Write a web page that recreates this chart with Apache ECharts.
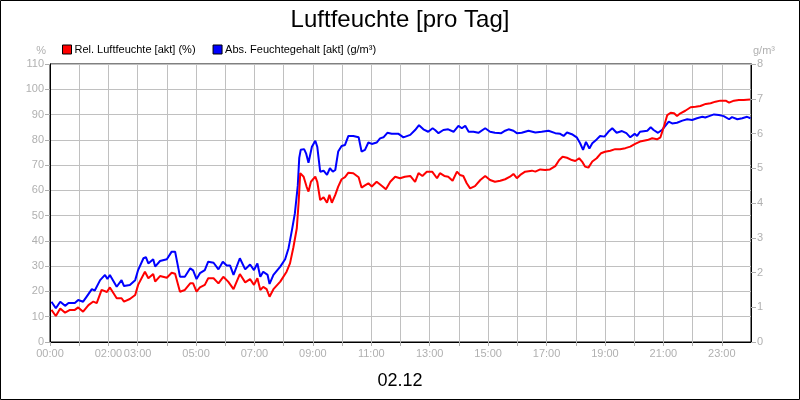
<!DOCTYPE html>
<html>
<head>
<meta charset="utf-8">
<script src="https://cdn.jsdelivr.net/npm/echarts@6/dist/echarts.min.js"></script>
<style>
  html, body { margin: 0; padding: 0; background: #fff; }
  #chart { width: 800px; height: 400px; }
</style>
</head>
<body>
<div id="chart"></div>
<script>
// Zeit in Minuten seit 00:00
const relMinutes = [3, 12, 21, 31, 41, 51, 58, 68, 79, 89, 96, 106, 117, 123, 137, 147, 152, 164, 175, 181,
  195, 202, 212, 216, 226, 240, 250, 257, 267, 277, 288, 294, 301, 308, 318, 325, 336, 346, 356, 366,
  370, 377, 390, 401, 411, 419, 426, 432, 438, 445, 451, 459, 473, 486, 493, 500, 507, 511, 514, 521,
  527, 531, 536, 545, 549, 555, 562, 569, 574, 579, 586, 592, 599, 606, 613, 623, 634, 640, 647, 654,
  661, 671, 682, 690, 699, 709, 719, 729, 740, 750, 757, 765, 774, 785, 795, 801, 810, 818, 827, 836,
  842, 849, 856, 863, 873, 884, 894, 904, 914, 925, 935, 945, 952, 959, 966, 976, 990, 997, 1007, 1017,
  1027, 1038, 1046, 1053, 1062, 1072, 1079, 1087, 1093, 1099, 1106, 1114, 1123, 1132, 1140, 1151, 1161, 1171, 1182, 1192,
  1202, 1212, 1227, 1237, 1247, 1254, 1261, 1268, 1275, 1282, 1288, 1295, 1305, 1316, 1326, 1336, 1347, 1357, 1367, 1377,
  1388, 1395, 1405, 1415, 1425, 1438];
const relValues = [12.7, 10.3, 13.3, 11.6, 12.7, 12.7, 13.7, 12.0, 14.6, 16.0, 15.4, 20.6, 19.8, 21.6, 17.3, 17.3, 16.0, 17.0, 18.6, 22.6,
  27.8, 25.2, 26.9, 23.9, 26.1, 25.4, 27.4, 27.0, 19.9, 20.6, 23.2, 23.2, 19.9, 21.6, 22.6, 25.2, 25.2, 23.2, 25.8, 23.9,
  24.2, 20.9, 26.9, 23.6, 24.9, 22.6, 25.2, 20.6, 21.8, 20.9, 17.9, 20.9, 23.9, 27.8, 31.1, 37.5, 45.0, 56.0, 66.8, 65.4,
  61.5, 59.5, 63.4, 65.4, 63.4, 56.2, 57.3, 55.1, 58.2, 55.1, 58.2, 61.5, 64.4, 65.2, 67.0, 66.8, 65.2, 61.1, 62.0, 62.8,
  61.5, 63.4, 61.7, 60.4, 63.4, 65.4, 64.8, 65.4, 65.7, 63.4, 66.8, 65.7, 67.4, 67.4, 64.8, 66.8, 65.7, 65.4, 63.8, 67.4,
  66.1, 65.7, 62.8, 60.8, 61.7, 64.1, 65.7, 64.1, 63.4, 63.8, 64.4, 65.4, 66.5, 64.8, 66.1, 67.4, 67.8, 67.4, 68.3, 68.1,
  68.3, 69.6, 72.0, 73.3, 72.9, 72.0, 71.6, 72.7, 71.4, 69.4, 69.0, 71.4, 72.7, 74.7, 75.3, 75.7, 76.3, 76.3, 76.7, 77.3,
  78.4, 79.3, 79.9, 80.6, 80.2, 81.0, 85.2, 89.8, 90.7, 90.5, 89.4, 90.5, 91.5, 92.9, 93.1, 93.4, 94.2, 94.5, 95.1, 95.5,
  95.5, 94.7, 95.5, 95.8, 95.8, 96.0];

const absMinutes = [3, 12, 21, 31, 38, 51, 58, 68, 75, 86, 92, 103, 113, 118, 123, 137, 147, 152, 164, 175,
  181, 192, 197, 202, 212, 216, 226, 240, 250, 257, 267, 277, 288, 294, 301, 308, 318, 325, 336, 346,
  355, 363, 370, 377, 390, 401, 411, 419, 426, 432, 438, 447, 451, 459, 473, 483, 490, 497, 503, 509,
  512, 515, 522, 526, 531, 538, 545, 549, 555, 562, 569, 575, 581, 586, 592, 599, 606, 613, 623, 634,
  640, 647, 654, 661, 671, 678, 685, 693, 702, 716, 726, 740, 750, 758, 767, 777, 786, 791, 798, 808,
  818, 829, 839, 846, 853, 860, 870, 880, 894, 904, 914, 927, 935, 942, 952, 959, 969, 983, 997, 1010,
  1024, 1038, 1048, 1055, 1062, 1072, 1082, 1089, 1095, 1101, 1108, 1114, 1123, 1130, 1139, 1147, 1155, 1164, 1175, 1184,
  1192, 1201, 1206, 1212, 1227, 1234, 1240, 1249, 1257, 1264, 1271, 1278, 1288, 1299, 1309, 1319, 1329, 1340, 1346, 1354,
  1364, 1374, 1384, 1395, 1401, 1412, 1422, 1432, 1439];
const absValues = [1.16, 0.97, 1.16, 1.04, 1.12, 1.12, 1.21, 1.16, 1.30, 1.52, 1.48, 1.78, 1.93, 1.81, 1.93, 1.59, 1.78, 1.61, 1.64, 1.78,
  2.07, 2.41, 2.44, 2.26, 2.38, 2.17, 2.33, 2.38, 2.60, 2.60, 1.88, 1.88, 2.12, 2.06, 1.81, 1.98, 2.07, 2.31, 2.28, 2.09,
  2.31, 2.20, 2.20, 1.93, 2.41, 2.09, 2.23, 2.07, 2.26, 1.88, 2.02, 1.93, 1.67, 1.93, 2.17, 2.38, 2.70, 3.22, 3.70, 4.50,
  5.30, 5.53, 5.55, 5.43, 5.16, 5.62, 5.79, 5.62, 4.90, 4.93, 4.81, 5.00, 4.90, 4.95, 5.48, 5.64, 5.67, 5.93, 5.93, 5.89,
  5.48, 5.53, 5.74, 5.70, 5.74, 5.86, 5.89, 6.02, 5.99, 5.99, 5.89, 5.96, 6.10, 6.24, 6.12, 6.05, 6.15, 6.10, 6.01, 6.10,
  6.12, 6.05, 6.22, 6.15, 6.22, 6.05, 6.05, 6.02, 6.15, 6.05, 6.02, 6.01, 6.08, 6.12, 6.08, 6.01, 6.02, 6.08, 6.03, 6.05,
  6.08, 6.01, 5.99, 5.93, 6.03, 5.98, 5.89, 5.72, 5.53, 5.76, 5.57, 5.72, 5.83, 5.93, 5.91, 6.05, 6.15, 6.02, 6.07, 6.01,
  5.89, 5.99, 5.93, 6.05, 6.08, 6.18, 6.10, 6.02, 6.10, 6.22, 6.34, 6.29, 6.31, 6.37, 6.41, 6.39, 6.44, 6.48, 6.46, 6.50,
  6.55, 6.53, 6.50, 6.41, 6.47, 6.41, 6.44, 6.48, 6.44];

const labeledHours = [0, 2, 3, 5, 7, 9, 11, 13, 15, 17, 19, 21, 23];

const relData = relMinutes.map((m, i) => [m, relValues[i]]);
const absData = absMinutes.map((m, i) => [m, absValues[i]]);

const FONT = "'Liberation Sans', Arial, sans-serif";
const GREY = "#b0b0b0";

const chart = echarts.init(document.getElementById("chart"));
chart.setOption({
  animation: false,
  backgroundColor: "#fff",
  textStyle: { fontFamily: FONT },
  title: [
    {
      text: "Luftfeuchte [pro Tag]",
      left: "center",
      top: 3,
      textStyle: { fontSize: 24, fontWeight: "normal", color: "#000", fontFamily: FONT },
    },
    {
      text: "02.12",
      left: "center",
      top: 367,
      textStyle: { fontSize: 18, fontWeight: "normal", color: "#000", fontFamily: FONT },
    },
  ],
  legend: {
    left: 57,
    top: 39,
    icon: "rect",
    itemWidth: 9,
    itemHeight: 9,
    itemGap: 17,
    textStyle: { fontSize: 11, color: "#000", fontFamily: FONT, padding: [0, 0, 0, -2] },
    data: [
      { name: "Rel. Luftfeuchte [akt] (%)", itemStyle: { borderColor: "#000", borderWidth: 1 } },
      { name: "Abs. Feuchtegehalt [akt] (g/m³)", itemStyle: { borderColor: "#000", borderWidth: 1 } },
    ],
  },
  grid: {
    left: 50,
    right: 49,
    top: 64,
    bottom: 58,
    show: true,
    borderColor: "#000",
    borderWidth: 1,
  },
  xAxis: {
    type: "value",
    min: 0,
    max: 1440,
    interval: 60,
    axisLine: { show: true, lineStyle: { color: "#000", width: 1 } },
    axisTick: { show: true, length: 4, lineStyle: { color: GREY } },
    splitLine: { show: true, lineStyle: { color: "#c0c0c0", width: 1 } },
    axisLabel: {
      color: GREY,
      fontSize: 11,
      margin: 6,
      showMaxLabel: false,
      formatter: (v) => {
        const h = v / 60;
        if (!labeledHours.includes(h)) return "";
        return String(h).padStart(2, "0") + ":00";
      },
    },
  },
  yAxis: [
    {
      type: "value",
      min: 0,
      max: 110,
      interval: 10,
      name: "%",
      nameGap: 8,
      nameTextStyle: { color: GREY, fontSize: 11, align: "right", padding: [0, 4, 0, 0] },
      axisLine: { show: true, lineStyle: { color: "#000" } },
      axisTick: { show: true, length: 5, lineStyle: { color: GREY } },
      splitLine: { show: true, lineStyle: { color: "#c0c0c0", width: 1 } },
      axisLabel: { color: GREY, fontSize: 11, margin: 6 },
    },
    {
      type: "value",
      min: 0,
      max: 8,
      interval: 1,
      name: "g/m³",
      nameGap: 8,
      nameTextStyle: { color: GREY, fontSize: 11, align: "left", padding: [0, 0, 0, 2] },
      axisLine: { show: true, lineStyle: { color: "#000" } },
      axisTick: { show: true, length: 5, lineStyle: { color: GREY } },
      splitLine: { show: false },
      axisLabel: { color: GREY, fontSize: 11, margin: 6 },
    },
  ],
  series: [
    {
      name: "Rel. Luftfeuchte [akt] (%)",
      type: "line",
      yAxisIndex: 0,
      data: relData,
      showSymbol: false,
      color: "#ff0000",
      lineStyle: { width: 2, color: "#ff0000" },
      z: 3,
    },
    {
      name: "Abs. Feuchtegehalt [akt] (g/m³)",
      type: "line",
      yAxisIndex: 1,
      data: absData,
      showSymbol: false,
      color: "#0000ff",
      lineStyle: { width: 2, color: "#0000ff" },
      z: 2,
    },
  ],
  graphic: [
    {
      type: "rect",
      shape: { x: 0.5, y: 0.5, width: 799, height: 399 },
      style: { fill: "none", stroke: "#000", lineWidth: 1 },
      silent: true,
    },
  ],
});
</script>
</body>
</html>
